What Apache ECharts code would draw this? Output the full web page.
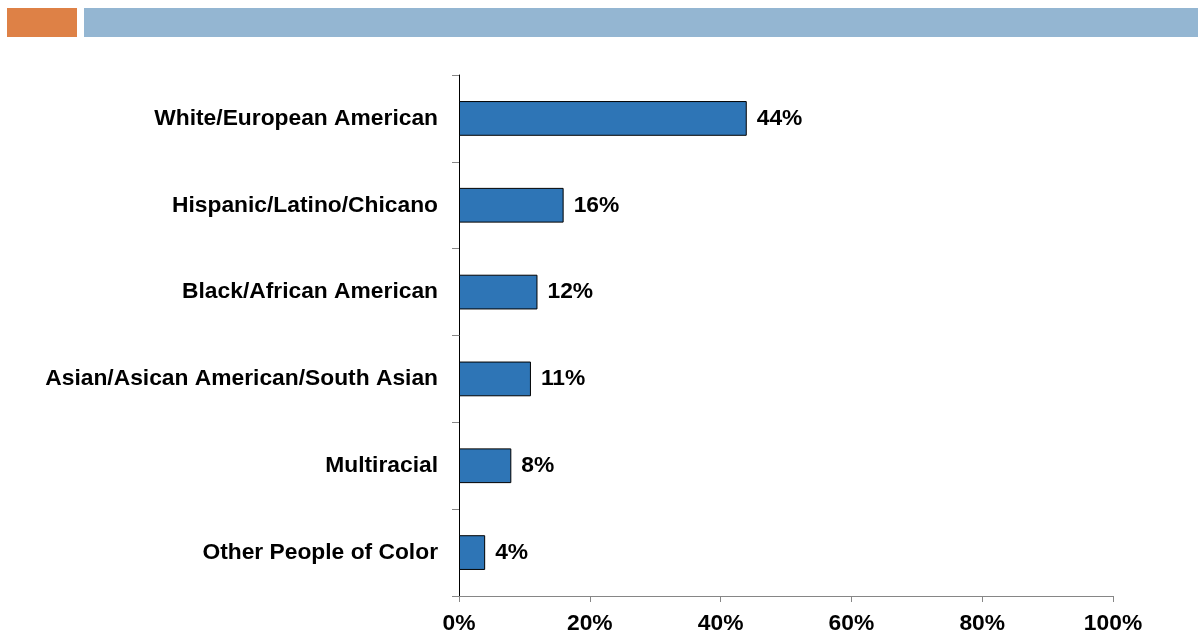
<!DOCTYPE html>
<html>
<head>
<meta charset="utf-8">
<script src="https://cdn.jsdelivr.net/npm/echarts@6/dist/echarts.min.js"></script>
<style>
  html, body { margin: 0; padding: 0; background: #fff; }
  #chart { width: 1198px; height: 634px; }
</style>
</head>
<body>
<div id="chart"></div>
<script>
// Share of respondents by race / ethnicity
const categories = [
  'White/European American',
  'Hispanic/Latino/Chicano',
  'Black/African American',
  'Asian/Asican American/South Asian',
  'Multiracial',
  'Other People of Color'
];
const shares = [44, 16, 12, 11, 8, 4];
const xTicks = [0, 20, 40, 60, 80, 100];

const chart = echarts.init(document.getElementById('chart'), null, { renderer: 'canvas' });
const FONT = '"Liberation Sans", Arial, sans-serif';
const FONT_SIZE = 22.8;

chart.setOption({
  animation: false,
  backgroundColor: '#ffffff',
  graphic: [
    // slide header strip
    { type: 'rect', shape: { x: 7, y: 8, width: 70, height: 29 }, style: { fill: '#DE8146' } },
    { type: 'rect', shape: { x: 84, y: 8, width: 1114, height: 29 }, style: { fill: '#94B6D2' } }
  ],
  grid: { left: 459, right: 85, top: 75, bottom: 38, containLabel: false, outerBoundsMode: 'none' },
  xAxis: {
    type: 'value',
    min: xTicks[0],
    max: xTicks[xTicks.length - 1],
    interval: xTicks[1] - xTicks[0],
    splitLine: { show: false },
    axisLine: { show: true, lineStyle: { color: '#868686', width: 1 } },
    axisTick: { show: true, length: 6, lineStyle: { color: '#868686' } },
    axisLabel: {
      margin: 16,
      formatter: v => v + '%',
      color: '#000', fontFamily: FONT, fontWeight: 'bold', fontSize: FONT_SIZE
    }
  },
  yAxis: {
    type: 'category',
    data: categories,
    inverse: true,
    axisLine: { show: true, lineStyle: { color: '#000', width: 1 } },
    axisTick: { show: true, length: 7, lineStyle: { color: '#868686' } },
    axisLabel: {
      margin: 21,
      color: '#000', fontFamily: FONT, fontWeight: 'bold', fontSize: FONT_SIZE
    }
  },
  series: [{
    type: 'bar',
    data: shares,
    barWidth: '40%',
    itemStyle: { color: '#2E75B6', borderColor: '#000', borderWidth: 1 },
    label: {
      show: true,
      position: 'right',
      distance: 10,
      formatter: p => p.value + '%',
      color: '#000', fontFamily: FONT, fontWeight: 'bold', fontSize: FONT_SIZE
    }
  }]
});
</script>
</body>
</html>
